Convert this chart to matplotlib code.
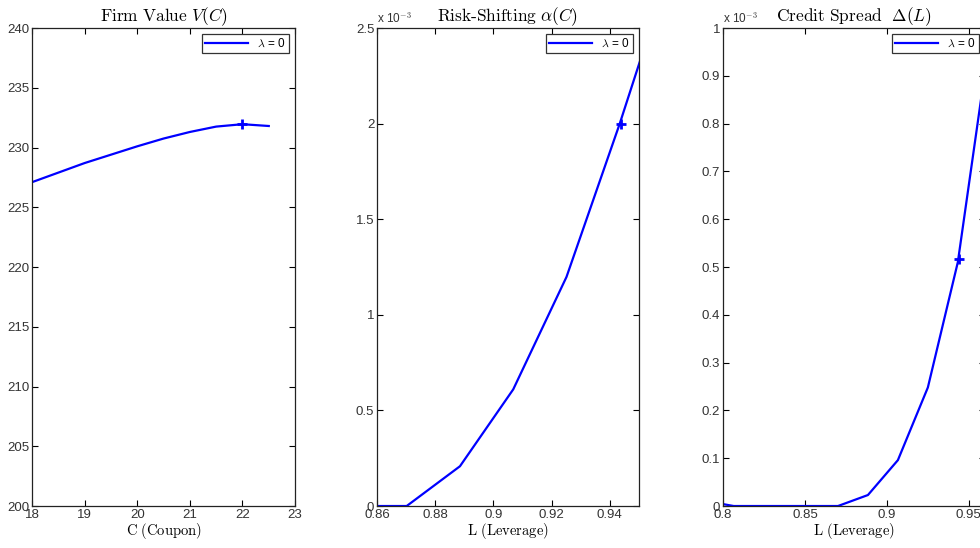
import numpy as np
import matplotlib.pyplot as plt

plt.rcParams['mathtext.fontset'] = 'cm'
plt.rcParams['font.family'] = ['Liberation Sans', 'DejaVu Sans']

# Firm value V(C) against coupon C
coupon = [18.0, 18.5, 19.0, 19.5, 20.0, 20.5, 21.0, 21.5, 22.0, 22.5]
firm_value = [227.1, 227.9, 228.7, 229.4, 230.1, 230.75, 231.3, 231.75, 231.95, 231.8]
coupon_opt, value_opt = 22.0, 231.95

# Risk-shifting alpha against leverage (x 10^-3)
lev_alpha = [0.8336, 0.8519, 0.8702, 0.8885, 0.9068, 0.9251, 0.9434, 0.9617]
alpha_e3 = [0.0, 0.0, 0.0, 0.208, 0.61, 1.198, 2.0, 2.86]
lev_alpha_opt, alpha_opt = 0.9438, 2.0

# Credit spread against leverage (x 10^-3)
lev_spread = [0.800, 0.8065, 0.8336, 0.8519, 0.8702, 0.8885, 0.9068, 0.9251, 0.9434, 0.9617]
spread_e3 = [0.004, 0.0, 0.0, 0.0, 0.0, 0.023, 0.096, 0.248, 0.51, 0.95]
lev_spread_opt, spread_opt = 0.9439, 0.516

fig = plt.figure(figsize=(9.8, 5.48), dpi=100)
bottom, height = 0.0766, 0.8723
ax1 = fig.add_axes([0.0327, bottom, 0.2684, height])
ax2 = fig.add_axes([0.3847, bottom, 0.2673, height])
ax3 = fig.add_axes([0.7378, bottom, 0.2673, height])

blue = '#0000ff'


def style(ax, title, xlabel):
    ax.set_title(title, fontsize=12.5, pad=5)
    ax.set_xlabel(xlabel, fontsize=10.5, labelpad=0)
    ax.tick_params(direction='in', top=True, right=True, labelsize=9.5,
                   labelcolor='#333333', length=4, width=0.8, pad=2)
    for s in ax.spines.values():
        s.set_linewidth(0.9)
        s.set_color('#222222')
    leg = ax.legend(loc='upper right', fontsize=8.5, fancybox=False,
                    handlelength=3.6, borderpad=0.3, handletextpad=0.8,
                    borderaxespad=0.5, framealpha=1)
    leg.get_frame().set_edgecolor('#333333')
    leg.get_frame().set_linewidth(0.9)


ax1.plot(coupon, firm_value, color=blue, lw=1.6, label=r'$\lambda$ = 0')
ax1.plot(coupon_opt, value_opt, '+', color=blue, ms=7, mew=2)
ax1.set_xlim(18, 23)
ax1.set_ylim(200, 240)
ax1.set_xticks(np.arange(18, 24, 1))
ax1.set_yticks(np.arange(200, 241, 5))
style(ax1, r'$\mathrm{Firm\ Value}\ V(C)$', r'$\mathrm{C\ (Coupon)}$')

ax2.plot(lev_alpha, alpha_e3, color=blue, lw=1.6, label=r'$\lambda$ = 0')
ax2.plot(lev_alpha_opt, alpha_opt, '+', color=blue, ms=7, mew=2)
ax2.set_xlim(0.86, 0.95)
ax2.set_ylim(0, 2.5)
ax2.set_xticks([0.86, 0.88, 0.9, 0.92, 0.94])
ax2.set_xticklabels(['0.86', '0.88', '0.9', '0.92', '0.94'])
ax2.set_yticks([0, 0.5, 1, 1.5, 2, 2.5])
ax2.set_yticklabels(['0', '0.5', '1', '1.5', '2', '2.5'])
style(ax2, r'$\mathrm{Risk\text{-}Shifting}\ \alpha(C)$', r'$\mathrm{L\ (Leverage)}$')
ax2.text(0.0, 1.004, r'x 10$^{-3}$', transform=ax2.transAxes, fontsize=8.5,
         color='#333333', ha='left', va='bottom')

ax3.plot(lev_spread, spread_e3, color=blue, lw=1.6, label=r'$\lambda$ = 0')
ax3.plot(lev_spread_opt, spread_opt, '+', color=blue, ms=7, mew=2)
ax3.set_xlim(0.8, 0.96)
ax3.set_ylim(0, 1)
ax3.set_xticks([0.8, 0.85, 0.9, 0.95])
ax3.set_xticklabels(['0.8', '0.85', '0.9', '0.95'])
ax3.set_yticks(np.arange(0, 1.01, 0.1))
ax3.set_yticklabels(['0', '0.1', '0.2', '0.3', '0.4', '0.5', '0.6', '0.7', '0.8', '0.9', '1'])
style(ax3, r'$\mathrm{Credit\ Spread}\ \ \Delta(L)$', r'$\mathrm{L\ (Leverage)}$')
ax3.text(0.0, 1.004, r'x 10$^{-3}$', transform=ax3.transAxes, fontsize=8.5,
         color='#333333', ha='left', va='bottom')

fig.savefig('out.png', dpi=100)
